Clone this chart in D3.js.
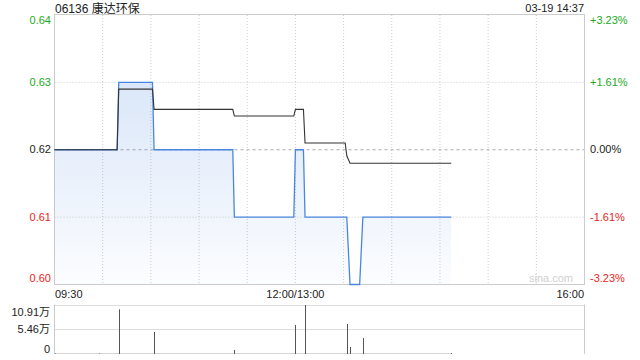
<!DOCTYPE html>
<html>
<head>
<meta charset="utf-8">
<script src="https://cdn.jsdelivr.net/npm/d3@7"></script>
<style>
  body { margin: 0; background: #fff; }
  text { font-family: "Liberation Sans", Arial, "Noto Sans CJK SC", sans-serif; }
</style>
</head>
<body>
<div class="chart"></div>
<script>
// price changes (time, price)
var priceTimes = ["09:30","10:09","10:10","10:31","10:32","11:21","11:22","11:59","13:00","13:05","13:06","13:32","13:34","13:40","13:42","14:37"];
var priceValues = [0.62, 0.62, 0.63, 0.63, 0.62, 0.62, 0.61, 0.61, 0.62, 0.62, 0.61, 0.61, 0.60, 0.60, 0.61, 0.61];

// average price line
var avgTimes = ["09:30","10:09","10:10","10:31","10:32","11:21","11:22","11:59","13:00","13:05","13:06","13:31","13:32","13:34","14:37"];
var avgValues = [0.620, 0.620, 0.629, 0.629, 0.626, 0.626, 0.625, 0.625, 0.626, 0.626, 0.621, 0.621, 0.6191, 0.618, 0.618];

// volume, in 万 shares
var volTimes = ["09:30","09:58","10:10","10:32","11:22","13:00","13:06","13:32","13:34","13:42","14:37"];
var volValues = [0.1, 0.1, 9.95, 4.9, 0.9, 6.45, 10.91, 6.68, 1.56, 3.56, 0.2];

var priceTicks = [0.64, 0.63, 0.62, 0.61, 0.60];
var pctTicks = ["+3.23%", "+1.61%", "0.00%", "-1.61%", "-3.23%"];
var volTicks = [10.91, 5.46, 0];
var volTickLabels = ["10.91万", "5.46万", "0"];
var timeLabels = ["09:30", "12:00/13:00", "16:00"];

var prevClose = 0.62;
var title = "06136 康达环保";
var stamp = "03-19 14:37";

var width = 640, height = 360;
var left = 54.5, right = 584.5;

// trading minutes since 09:30, lunch break removed
function tmin(s) {
  var p = s.split(":"), t = (+p[0]) * 60 + (+p[1]);
  return t <= 720 ? t - 570 : t - 780 + 150;
}

var svg = d3.select(".chart").append("svg")
    .attr("width", width)
    .attr("height", height);

var x = d3.scaleLinear().domain([0, 330]).range([left, right]);
var y = d3.scaleLinear().domain([0.60, 0.64]).range([284.5, 15]);
var yv = d3.scaleLinear().domain([0, 10.91]).range([354, 305]);

var green = "#22aa22", red = "#ee2222", dark = "#222";
function tickColor(v) { return v > prevClose + 1e-9 ? green : (v < prevClose - 1e-9 ? red : dark); }

var defs = svg.append("defs");
var grad = defs.append("linearGradient")
    .attr("id", "fillGrad")
    .attr("gradientUnits", "userSpaceOnUse")
    .attr("x1", 0).attr("x2", 0)
    .attr("y1", y(0.63)).attr("y2", y(0.60));
grad.append("stop").attr("offset", "0%").attr("stop-color", "#4a86e0").attr("stop-opacity", 0.2);
grad.append("stop").attr("offset", "100%").attr("stop-color", "#4a86e0").attr("stop-opacity", 0.02);

// vertical grid
for (var i = 1; i < 11; i++) {
  svg.append("line")
    .attr("x1", x(i * 30)).attr("x2", x(i * 30))
    .attr("y1", 15).attr("y2", 284.5)
    .attr("stroke", "#ccc").attr("stroke-dasharray", "1,2");
}

// horizontal grid
priceTicks.forEach(function(v) {
  if (v === 0.64 || v === 0.60) return;
  svg.append("line")
    .attr("x1", left).attr("x2", right)
    .attr("y1", y(v)).attr("y2", y(v))
    .attr("stroke", v === prevClose ? "#aaa" : "#ccc")
    .attr("stroke-dasharray", v === prevClose ? "3,3" : "1,2");
});

// borders
svg.append("rect")
  .attr("x", left).attr("y", 14.5)
  .attr("width", right - left).attr("height", 284.5 - 14.5)
  .attr("fill", "none").attr("stroke", "#ccc");

var pricePts = priceTimes.map(function(t, i) { return [tmin(t), priceValues[i]]; });
var avgPts = avgTimes.map(function(t, i) { return [tmin(t), avgValues[i]]; });

svg.append("path")
  .datum(pricePts)
  .attr("fill", "url(#fillGrad)")
  .attr("d", d3.area()
    .x(function(d) { return x(d[0]); })
    .y0(y(0.60))
    .y1(function(d) { return y(d[1]); }));

svg.append("path")
  .datum(pricePts)
  .attr("fill", "none")
  .attr("stroke", "#4a86e0")
  .attr("stroke-width", 1.3)
  .attr("d", d3.line()
    .x(function(d) { return x(d[0]); })
    .y(function(d) { return y(d[1]); }));

svg.append("path")
  .datum(avgPts)
  .attr("fill", "none")
  .attr("stroke", "#333")
  .attr("stroke-width", 1.1)
  .attr("d", d3.line()
    .x(function(d) { return x(d[0]); })
    .y(function(d) { return y(d[1]); }));

// y labels
var dys = [8.5, 3.7, 3.7, 3.7, -2.5];
priceTicks.forEach(function(v, i) {
  svg.append("text")
    .attr("x", 51).attr("y", y(v) + dys[i])
    .attr("text-anchor", "end")
    .attr("font-size", "11px")
    .attr("fill", tickColor(v))
    .text(v.toFixed(2));
  svg.append("text")
    .attr("x", 590).attr("y", y(v) + dys[i])
    .attr("font-size", "11px")
    .attr("fill", tickColor(v))
    .text(pctTicks[i]);
});

svg.append("text")
  .attr("x", 55).attr("y", 12.5)
  .attr("font-size", "12px").attr("fill", dark)
  .text(title);

svg.append("text")
  .attr("x", 584).attr("y", 11.5)
  .attr("text-anchor", "end")
  .attr("font-size", "11px").attr("fill", dark)
  .text(stamp);

svg.append("text")
  .attr("x", 573).attr("y", 282)
  .attr("text-anchor", "end")
  .attr("font-size", "11px").attr("fill", "#d0d0d0")
  .text("sina.com");

// time labels
svg.append("text").attr("x", 55).attr("y", 297.5)
  .attr("font-size", "11px").attr("fill", dark).text(timeLabels[0]);
svg.append("text").attr("x", x(150)).attr("y", 297.5)
  .attr("text-anchor", "middle")
  .attr("font-size", "11px").attr("fill", dark).text(timeLabels[1]);
svg.append("text").attr("x", 584).attr("y", 297.5)
  .attr("text-anchor", "end")
  .attr("font-size", "11px").attr("fill", dark).text(timeLabels[2]);

// volume panel
svg.append("line").attr("x1", left).attr("x2", left).attr("y1", 304.5).attr("y2", 354).attr("stroke", "#ccc");
svg.append("line").attr("x1", right).attr("x2", right).attr("y1", 304.5).attr("y2", 354).attr("stroke", "#ccc");
[10.91, 5.46].forEach(function(v) {
  svg.append("line")
    .attr("x1", left).attr("x2", right)
    .attr("y1", Math.round(yv(v)) + 0.5).attr("y2", Math.round(yv(v)) + 0.5)
    .attr("stroke", "#bbb").attr("stroke-dasharray", "1,1");
});
svg.append("line")
  .attr("x1", left).attr("x2", x(tmin(stamp.split(" ")[1])))
  .attr("y1", 353.5).attr("y2", 353.5)
  .attr("stroke", "#aaa").attr("stroke-dasharray", "1,1");

volTicks.forEach(function(v, i) {
  svg.append("text")
    .attr("x", 50).attr("y", yv(v) + [11, 3.5, -1.5][i])
    .attr("text-anchor", "end")
    .attr("font-size", "11px").attr("fill", dark)
    .text(volTickLabels[i]);
});

svg.selectAll(".vol")
  .data(volTimes.map(function(t, i) { return [tmin(t), volValues[i]]; }))
  .enter().append("line")
  .attr("class", "vol")
  .attr("x1", function(d) { return Math.round(x(d[0])) + 0.5; })
  .attr("x2", function(d) { return Math.round(x(d[0])) + 0.5; })
  .attr("y1", 354)
  .attr("y2", function(d) { return yv(d[1]); })
  .attr("stroke", "#555").attr("stroke-width", 1);
</script>
</body>
</html>
